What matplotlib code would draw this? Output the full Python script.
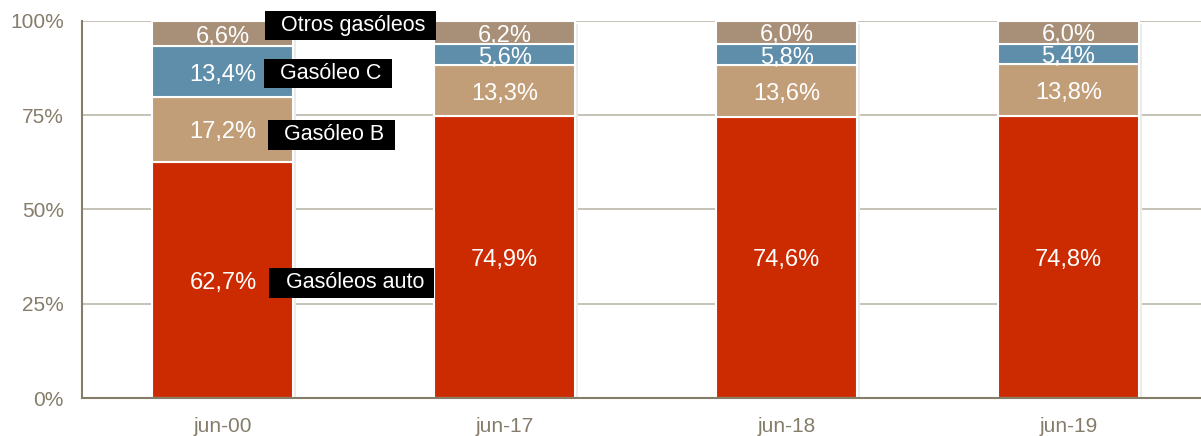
import numpy as np
import matplotlib.pyplot as plt

plt.rcParams['font.family'] = ['Liberation Sans', 'DejaVu Sans']

# --- Data ---
periods = ['jun-00', 'jun-17', 'jun-18', 'jun-19']
series_names = ['Gasóleos auto', 'Gasóleo B', 'Gasóleo C', 'Otros gasóleos']
auto = [62.7, 74.9, 74.6, 74.8]
gas_b = [17.2, 13.3, 13.6, 13.8]
gas_c = [13.4, 5.6, 5.8, 5.4]
otros = [6.6, 6.2, 6.0, 6.0]

colors = ['#cc2a00', '#c29e78', '#5f8eaa', '#a88f77']
axis_col = '#857c6a'

values = [np.array(auto), np.array(gas_b), np.array(gas_c), np.array(otros)]
x = np.arange(len(periods))
width = 0.5

fig = plt.figure(figsize=(12.01, 4.36), dpi=100)
ax = fig.add_axes([82 / 1201, 1 - 398 / 436, (1201 - 82) / 1201, 377 / 436])

# soft shadow behind the bars
ax.bar(x + 0.01, 100, width, bottom=-0.8, color='#ebebea', zorder=1)

bottom = np.zeros(len(periods))
for vals, col in zip(values, colors):
    ax.bar(x, vals, width, bottom=bottom, color=col, edgecolor='white',
           linewidth=1.5, zorder=2)
    for xi, v, b in zip(x, vals, bottom):
        ax.text(xi, b + v / 2 - 0.8, f'{v:.1f}%'.replace('.', ','), ha='center',
                va='center', color='white', fontsize=17, zorder=3)
    bottom += vals

# series names next to the first bar
mids = np.cumsum([v[0] for v in values]) - np.array([v[0] for v in values]) / 2
y_shift = [-0.8, -1.5, -0.5, 2.2]
x_pos = [0.18, 0.175, 0.16, 0.165]
for name, m, dy, xp in zip(series_names, mids, y_shift, x_pos):
    ax.text(xp, m + dy, '  ' + name + ' ', ha='left', va='center', color='white',
            fontsize=15.5, zorder=4,
            bbox=dict(boxstyle='square,pad=0.2', fc='black', ec='none'))

ax.set_xlim(-0.5, 3.47)
ax.set_ylim(0, 100)
ax.set_yticks([0, 25, 50, 75, 100])
ax.set_yticklabels(['0%', '25%', '50%', '75%', '100%'])
ax.set_xticks(x)
ax.set_xticklabels(periods)
ax.tick_params(axis='both', length=0, colors=axis_col, labelsize=15)
ax.tick_params(axis='x', pad=14)
ax.tick_params(axis='y', pad=13)

ax.yaxis.grid(True, color='#bcb7ab', linewidth=1.2, zorder=0)
ax.set_axisbelow(True)
for s in ['top', 'right']:
    ax.spines[s].set_visible(False)
for s in ['left', 'bottom']:
    ax.spines[s].set_color(axis_col)
    ax.spines[s].set_linewidth(1.5)

plt.savefig('out.png', dpi=100)
